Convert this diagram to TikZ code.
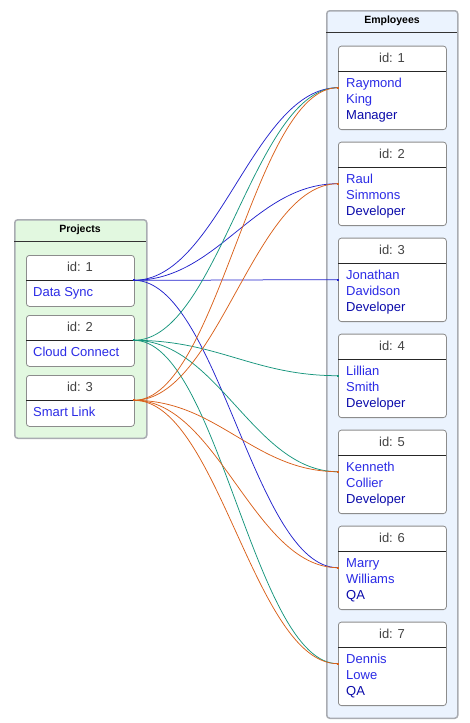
\documentclass[tikz,border=0pt]{standalone}
\usepackage{fontspec}
\setmainfont{Liberation Sans}
\usetikzlibrary{calc}
\definecolor{pgreen}{HTML}{E2F8E0}
\definecolor{eblue}{HTML}{EBF3FE}
\definecolor{bordgray}{HTML}{A9ACB2}
\definecolor{innergray}{HTML}{8C8C8C}
\definecolor{txtblue}{HTML}{2B2BE6}
\definecolor{txtnavy}{HTML}{0A0AAA}
\definecolor{idgray}{HTML}{444444}
\definecolor{cblue}{HTML}{2222CC}
\definecolor{cteal}{HTML}{16957C}
\definecolor{corange}{HTML}{D9601A}
\begin{document}
\begin{tikzpicture}[x=1pt,y=-1pt,
  outerbox/.style={draw=bordgray, line width=1.5pt, rounded corners=3pt, inner sep=0pt, minimum width=132pt, anchor=north west},
  innerbox/.style={draw=innergray, line width=0.8pt, fill=white, rounded corners=3pt, inner sep=0pt, minimum width=108pt, anchor=north west},
  hdrline/.style={draw=black!80, line width=0.8pt},
  sepline/.style={draw=black!85, line width=0.8pt},
  hdrtext/.style={font=\bfseries\fontsize{10.5}{12}\selectfont, inner sep=0pt, anchor=base},
  idtext/.style={font=\fontsize{13}{15}\selectfont, text=idgray, inner sep=0pt, anchor=base},
  nametext/.style={font=\fontsize{13}{15}\selectfont, text=txtblue, inner sep=0pt, anchor=base west},
  roletext/.style={font=\fontsize{13}{15}\selectfont, text=txtnavy, inner sep=0pt, anchor=base west},
  conn/.style={line width=0.75pt}
]
\useasboundingbox (0,0) rectangle (469,723);
% Projects container
\node[outerbox, fill=pgreen, minimum height=218.5pt] (proj) at (14,219) {};
\node[hdrtext] (projT) at (80,232) {Projects};
\draw[hdrline] (14,241.5) -- (146,241.5);
% Employees container
\node[outerbox, fill=eblue, minimum width=131pt, minimum height=707.5pt] (emp) at (326,10) {};
\node[hdrtext] (empT) at (392,23.3) {Employees};
\draw[hdrline] (326,32.5) -- (457,32.5);
% Project boxes
\foreach \i/\nm in {1/Data Sync, 2/Cloud Connect, 3/Smart Link} {
  \pgfmathsetmacro\t{255+60*(\i-1)}
  \node[innerbox, minimum height=51pt] (p\i) at (26,\t) {};
  \node[idtext] (p\i id) at (80,\t+16) {id: \i};
  \draw[sepline] (26,\t+25.3) -- (134,\t+25.3);
  \node[nametext] (p\i nm) at (33,\t+41) {\nm};
  \coordinate (p\i out) at (134,\t+25.3);
}
% Employee boxes
\foreach \j/\a/\b/\c in {1/Raymond/King/Manager, 2/Raul/Simmons/Developer, 3/Jonathan/Davidson/Developer, 4/Lillian/Smith/Developer, 5/Kenneth/Collier/Developer, 6/Marry/Williams/QA, 7/Dennis/Lowe/QA} {
  \pgfmathsetmacro\t{45.7+96*(\j-1)}
  \node[innerbox, minimum height=83.5pt] (e\j) at (338,\t) {};
  \node[idtext] (e\j id) at (392,\t+16.6) {id: \j};
  \draw[sepline] (338,\t+25.3) -- (446,\t+25.3);
  \node[nametext] (e\j a) at (346,\t+41.6) {\a};
  \node[nametext] (e\j b) at (346,\t+57.9) {\b};
  \node[roletext] (e\j c) at (346,\t+74.2) {\c};
  \coordinate (e\j in) at (338,\t+42);
}
% Connectors
\foreach \s/\e/\col in {1/1/cblue, 1/2/cblue, 1/3/cblue, 1/6/cblue,
                        2/1/cteal, 2/4/cteal, 2/5/cteal, 2/7/cteal,
                        3/1/corange, 3/2/corange, 3/5/corange, 3/6/corange, 3/7/corange} {
  \draw[conn, draw=\col] (p\s out) .. controls +(84,0) and +(-84,0) .. (e\e in);
  \fill[\col] ($(p\s out)+(-1.1,-1.1)$) rectangle ($(p\s out)+(1.1,1.1)$);
  \fill[\col] ($(e\e in)+(-1.1,-1.1)$) rectangle ($(e\e in)+(1.1,1.1)$);
}
\end{tikzpicture}
\end{document}
